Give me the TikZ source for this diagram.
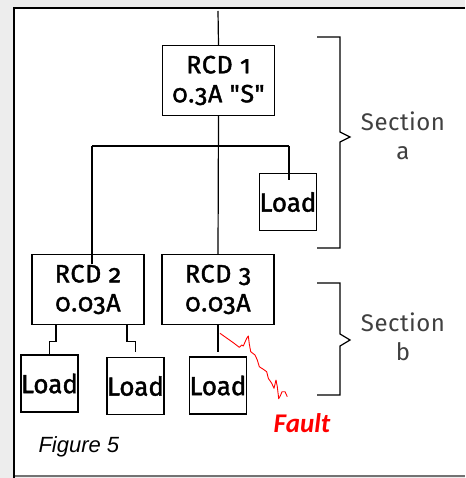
\documentclass[tikz,border=0pt]{standalone}
\usepackage{fontspec}
\newfontfamily\rcdfont[Numbers=OldStyle, LetterSpace=3, FakeBold=1.6]{Fira Sans}
\newfontfamily\loadfont[FakeBold=1.6]{Fira Sans}
\newfontfamily\secfont[LetterSpace=2]{Fira Sans}
\newfontfamily\capfont{Liberation Sans}
\newfontfamily\faultfont{Carlito}
\definecolor{faultred}{RGB}{255,0,0}
\definecolor{labelgray}{RGB}{64,64,64}
\begin{document}
\begin{tikzpicture}[x=1pt, y=-1pt,
    rcd/.style={draw, line width=1.2pt, minimum width=112pt, minimum height=70pt, inner sep=0pt, align=center, font=\rcdfont\fontsize{25}{29}\selectfont},
    load/.style={draw, line width=1.2pt, minimum width=57pt, minimum height=57pt, inner sep=0pt, font=\loadfont\fontsize{26}{30}\selectfont},
    wire/.style={line width=1.2pt},
    section/.style={align=center, text=labelgray, font=\secfont\fontsize{24}{29}\selectfont}]
            % frame
            \fill[black!7] (0,0) rectangle (465,478);
            \fill[white] (14,8) rectangle (465,476);
            \useasboundingbox (0,0) rectangle (465,478);
            \draw[line width=2pt, black!55] (14,476) -- (465,476);
            \draw[line width=1.6pt] (14,478) -- (14,8) -- (465,8);
            % devices
            \node[rcd] (rcdA) at (218.5,80.5) {RCD 1\\0.3A "S"};
            \node[load] (loadA) at (288,202) {Load};
            \node[rcd] (rcdB) at (88,289.5) {RCD 2\\0.03A};
            \node[rcd] (rcdC) at (218,289.5) {RCD 3\\0.03A};
            \node[load] (loadB) at (49.5,383.5) {Load};
            \node[load] (loadC) at (135.5,386) {Load};
            \node[load] (loadD) at (218,385.5) {Load};
            % wiring
            \coordinate (feed) at (218,11);
            \coordinate (busL) at (92,146);
            \coordinate (busR) at (289,146);
            \draw[wire] (feed) -- (rcdA.north);
            \draw[wire] (rcdA.south) -- (rcdC.north);
            \draw[wire] (busL) -- (busR);
            \draw[wire] (busL) -- ([yshift=-10pt]rcdB.north -| busL);
            \draw[wire] (busR) -- ([yshift=-7pt]loadA.north -| busR);
            \draw[wire] ([xshift=-32pt]rcdB.south) -- ++(0,16) -| (loadB.north);
            \draw[wire] ([xshift=39pt]rcdB.south) -- ++(0,16) -| ([yshift=5pt]loadC.north);
            \draw[wire] (rcdC.south) -- ([yshift=4pt]loadD.north);
            % sections
            \draw[wire] (317,37) -- (340,37) -- (340,132) -- (350,137) -- (340,142) -- (340,248) -- (317,248);
            \draw[wire] (317,283) -- (340,283) -- (340,334) -- (350,340) -- (340,346) -- (340,395) -- (317,395);
            \node[section] (secA) at (403,136) {Section\\a};
            \node[section] (secB) at (403,337) {Section\\b};
            % fault
            \draw[faultred, line width=0.9pt, line join=round]
            (220,333.3) -- (233.3,342.7) -- (239.3,347.3) -- (241.7,345) -- (243.3,346) -- (246.7,338.3)
            -- (248.3,336) -- (249.3,344) -- (250.7,351.7) -- (255,355) -- (257.3,360) -- (259.3,366.7)
            -- (263.3,369.3) -- (266.7,371.7) -- (268.3,378.3) -- (271.7,383.3) -- (274,388.3) -- (276,380)
            -- (277.3,386.7) -- (278.7,398.7) -- (280.7,395) -- (282,391.7) -- (285,391.7) -- (287.3,396.7);
            \node[text=faultred, font=\faultfont\bfseries\itshape\fontsize{27}{30}\selectfont] (fault) at (302,423) {Fault};
            \node[font=\capfont\itshape\fontsize{22}{26}\selectfont, anchor=west] (caption) at (35,447) {Figure 5};
        \end{tikzpicture}
\end{document}
